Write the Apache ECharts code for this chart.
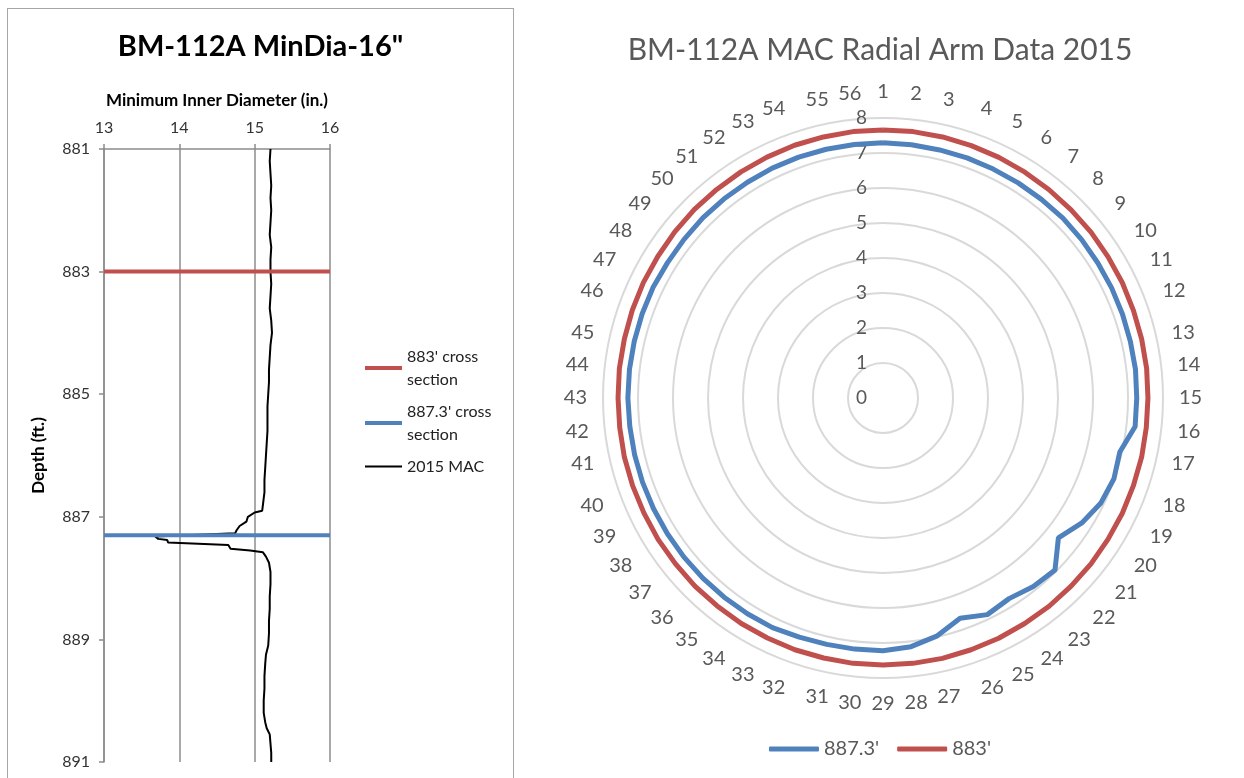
<!DOCTYPE html>
<html>
<head>
<meta charset="utf-8">
<script src="https://cdn.jsdelivr.net/npm/echarts@6/dist/echarts.min.js"></script>
<style>
  html, body { margin: 0; padding: 0; background: #fff; }
  #echart1 { position: absolute; left: 7px; top: 8px; width: 505px; height: 775px; border: 1px solid #a6a6a6; border-bottom: none; }
  #echart2 { position: absolute; left: 516px; top: 0; width: 728px; height: 778px; }
</style>
</head>
<body>
<div id="echart1"></div>
<div id="echart2"></div>
<script>
// left chart: minimum inner diameter vs depth
const depthFt = [881.0, 881.2, 881.4, 881.6, 881.8, 882.0, 882.2, 882.4, 882.6, 882.8,
  883.0, 883.2, 883.4, 883.6, 883.8, 884.0, 884.2, 884.4, 884.6, 884.8,
  885.0, 885.2, 885.4, 885.6, 885.8, 886.0, 886.2, 886.4, 886.6, 886.7,
  886.8, 886.9, 886.93, 887.0, 887.08, 887.15, 887.22, 887.27, 887.32, 887.36,
  887.38, 887.42, 887.46, 887.52, 887.55, 887.58, 887.65, 887.75, 887.9, 888.1,
  888.3, 888.5, 888.7, 888.9, 889.1, 889.25, 889.4, 889.6, 889.8, 890.0,
  890.2, 890.35, 890.45, 890.55, 890.7, 890.85, 891.0];
const minDiaIn = [15.21, 15.20, 15.21, 15.22, 15.21, 15.22, 15.21, 15.20, 15.22, 15.21,
  15.21, 15.22, 15.21, 15.20, 15.22, 15.23, 15.21, 15.20, 15.19, 15.19,
  15.18, 15.17, 15.17, 15.17, 15.16, 15.15, 15.14, 15.13, 15.13, 15.12,
  15.11, 15.10, 15.00, 14.91, 14.89, 14.80, 14.76, 14.74, 13.68, 13.72,
  13.84, 13.85, 14.65, 14.68, 14.94, 15.11, 15.15, 15.19, 15.21, 15.21,
  15.20, 15.20, 15.19, 15.19, 15.18, 15.15, 15.14, 15.13, 15.13, 15.12,
  15.12, 15.14, 15.16, 15.20, 15.21, 15.22, 15.22];
const crossSections = ["883' cross section", "887.3' cross section"];
const crossDepths = [883, 887.3];
const diaRange = [13, 16];

// right chart: radial arm readings
const armLabels = ['1','2','3','4','5','6','7','8','9','10','11','12','13','14','15','16','17','18','19','20',
  '21','22','23','24','25','26','27','28','29','30','31','32','33','34','35','36','37','38','39','40',
  '41','42','43','44','45','46','47','48','49','50','51','52','53','54','55','56'];
const arms887 = [7.29, 7.28, 7.27, 7.27, 7.26, 7.26, 7.26, 7.27, 7.26, 7.25,
  7.25, 7.25, 7.25, 7.26, 7.25, 7.25, 6.94, 6.99, 6.91, 6.71,
  6.41, 6.95, 6.89, 6.77, 6.87, 6.67, 6.97, 7.15, 7.22, 7.22,
  7.22, 7.24, 7.28, 7.28, 7.28, 7.28, 7.28, 7.28, 7.28, 7.28,
  7.28, 7.28, 7.29, 7.29, 7.29, 7.29, 7.29, 7.27, 7.27, 7.28,
  7.28, 7.28, 7.29, 7.29, 7.29, 7.29];
const arms883 = [7.66, 7.66, 7.65, 7.64, 7.63, 7.62, 7.61, 7.60, 7.60, 7.59,
  7.59, 7.58, 7.58, 7.58, 7.57, 7.57, 7.58, 7.58, 7.59, 7.59,
  7.60, 7.60, 7.61, 7.61, 7.62, 7.62, 7.63, 7.63, 7.63, 7.63,
  7.62, 7.62, 7.61, 7.61, 7.60, 7.60, 7.59, 7.59, 7.58, 7.58,
  7.58, 7.57, 7.57, 7.58, 7.58, 7.59, 7.60, 7.60, 7.61, 7.62,
  7.62, 7.63, 7.64, 7.65, 7.65, 7.66];

const RED = '#c0504d';
const BLUE = '#4f81bd';
const FONT = 'Lato, "Open Sans", sans-serif';
const THIN_LINE = 'path://M0,0h40v2h-40z';

let chart1 = echarts.init(document.getElementById('echart1'));
chart1.setOption({
  animation: false,
  title: {
    text: 'BM-112A MinDia-16"',
    left: 'center',
    top: 18,
    textStyle: { fontFamily: FONT, fontSize: 29, fontWeight: 'bold', color: '#000' }
  },
  legend: {
    orient: 'vertical',
    left: 352,
    top: 331,
    itemWidth: 37,
    itemHeight: 4,
    itemGap: 9,
    data: [
      { name: crossSections[0], icon: 'rect' },
      { name: crossSections[1], icon: 'rect' },
      { name: '2015 MAC', icon: THIN_LINE }
    ],
    formatter: name => name.replace(' section', '\nsection'),
    textStyle: { fontFamily: FONT, fontSize: 16, lineHeight: 23, color: '#222' }
  },
  grid: { left: 96, top: 140, width: 226, height: 613 },
  xAxis: {
    type: 'value',
    position: 'top',
    min: diaRange[0],
    max: diaRange[1],
    interval: 1,
    name: 'Minimum Inner Diameter (in.)',
    nameLocation: 'middle',
    nameGap: 40,
    nameTextStyle: { fontFamily: FONT, fontSize: 17, fontWeight: 'bold', color: '#000' },
    axisLine: { show: true, lineStyle: { color: '#8c8c8c', width: 1.5 } },
    axisTick: { show: true, length: 5, lineStyle: { color: '#8c8c8c', width: 1.5 } },
    axisLabel: { fontFamily: FONT, fontSize: 16, color: '#333', margin: 13 },
    splitLine: { show: true, lineStyle: { color: '#8c8c8c', width: 1.5 } }
  },
  yAxis: {
    type: 'value',
    inverse: true,
    min: 881,
    max: 891,
    interval: 2,
    name: 'Depth (ft.)',
    nameLocation: 'middle',
    nameGap: 57,
    nameRotate: 90,
    nameTextStyle: { fontFamily: FONT, fontSize: 17, fontWeight: 'bold', color: '#000' },
    axisLine: { show: true, lineStyle: { color: '#8c8c8c', width: 1.5 } },
    axisTick: { show: true, length: 5, lineStyle: { color: '#8c8c8c', width: 1.5 } },
    axisLabel: { fontFamily: FONT, fontSize: 16, color: '#333', margin: 14 },
    splitLine: { show: false }
  },
  series: [
    {
      name: crossSections[0],
      type: 'line',
      symbol: 'none',
      lineStyle: { color: RED, width: 4 },
      itemStyle: { color: RED },
      data: [[diaRange[0], crossDepths[0]], [diaRange[1], crossDepths[0]]]
    },
    {
      name: crossSections[1],
      type: 'line',
      symbol: 'none',
      lineStyle: { color: BLUE, width: 4 },
      itemStyle: { color: BLUE },
      data: [[diaRange[0], crossDepths[1]], [diaRange[1], crossDepths[1]]]
    },
    {
      name: '2015 MAC',
      type: 'line',
      symbol: 'none',
      z: 1,
      lineStyle: { color: '#000', width: 2 },
      itemStyle: { color: '#000' },
      data: depthFt.map((d, i) => [minDiaIn[i], d])
    }
  ]
});

// closes the ring by repeating the first arm at the end of the angle axis
const ring = vals => vals.map((r, i) => [r, i]).concat([[vals[0], vals.length]]);

let chart2 = echarts.init(document.getElementById('echart2'));
chart2.setOption({
  animation: false,
  title: {
    text: 'BM-112A MAC Radial Arm Data 2015',
    left: 'center',
    top: 30,
    textStyle: { fontFamily: FONT, fontSize: 30, fontWeight: 'normal', color: '#595959' }
  },
  legend: {
    left: 'center',
    top: 734,
    itemWidth: 50,
    itemHeight: 5,
    itemGap: 18,
    icon: 'roundRect',
    data: ["887.3'", "883'"],
    textStyle: { fontFamily: FONT, fontSize: 20, color: '#595959' }
  },
  polar: { center: [367, 398], radius: 280 },
  angleAxis: {
    type: 'value',
    min: 0,
    max: armLabels.length,
    interval: 1,
    startAngle: 90,
    clockwise: true,
    axisLine: { show: false },
    axisTick: { show: false },
    splitLine: { show: false },
    axisLabel: {
      fontFamily: FONT, fontSize: 20, color: '#595959', margin: 16,
      formatter: v => armLabels[v] || ''
    }
  },
  radiusAxis: {
    type: 'value',
    min: 0,
    max: 8,
    interval: 1,
    axisLine: { show: false },
    axisTick: { show: false },
    axisLabel: { fontFamily: FONT, fontSize: 19, color: '#595959', margin: 16 },
    splitLine: { show: true, lineStyle: { color: '#d9d9d9', width: 2 } }
  },
  series: [
    {
      name: "887.3'",
      type: 'line',
      coordinateSystem: 'polar',
      symbol: 'none',
      lineStyle: { color: BLUE, width: 5 },
      itemStyle: { color: BLUE },
      data: ring(arms887)
    },
    {
      name: "883'",
      type: 'line',
      coordinateSystem: 'polar',
      symbol: 'none',
      lineStyle: { color: RED, width: 5 },
      itemStyle: { color: RED },
      data: ring(arms883)
    }
  ]
});
</script>
</body>
</html>
